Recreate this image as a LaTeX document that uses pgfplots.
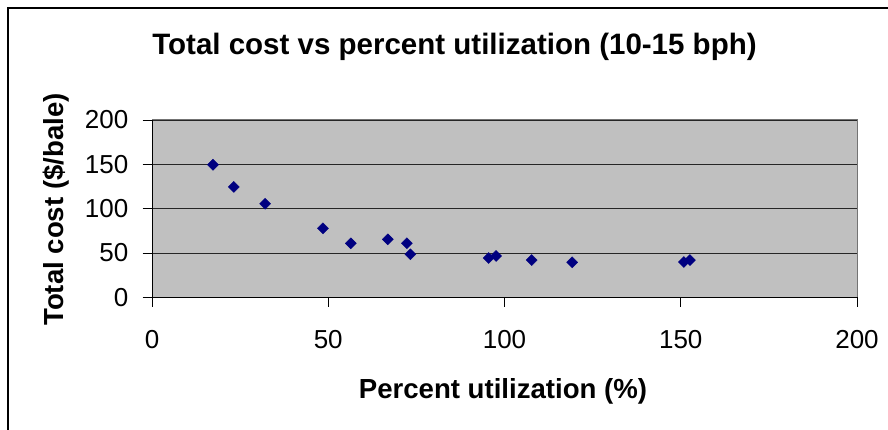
\documentclass[border=0pt]{standalone}
\usepackage{fontspec}
\setmainfont{Liberation Sans}
\usepackage{pgfplots}
\pgfplotsset{compat=1.18}
\definecolor{plotbg}{HTML}{C0C0C0}
\definecolor{navymark}{HTML}{000080}
\begin{document}
\begin{tikzpicture}[x=1pt,y=1pt]
\path[use as bounding box] (0,0) rectangle (888,430);
\draw[line width=1.2pt,black] (8,0) -- (8,422) -- (888,422);
\begin{axis}[
  at={(152pt,132.7pt)}, anchor=origin,
  x=3.525pt, y=0.8865pt,
  xmin=0, xmax=200, ymin=0, ymax=200,
  xtick={0,50,100,150,200}, ytick={0,50,100,150,200},
  axis x line=bottom, axis y line=left,
  axis line style={-, black, line width=1pt},
  tick align=outside, major tick length=9.5pt,
  tick style={black, line width=0.9pt},
  axis background/.style={fill=plotbg},
  ymajorgrids, grid style={black!85, line width=0.9pt},
  /pgf/number format/assume math mode=true,
  tick label style={font=\fontsize{26}{30}\selectfont, inner sep=0pt},
  xticklabel style={anchor=north, yshift=-23.5pt},
  yticklabel style={anchor=east, xshift=-14pt},
  clip=false,
]
\draw[gray!90!black, line width=1pt] (axis cs:0,200) -- (axis cs:200,200) -- (axis cs:200,0);
\addplot[only marks, mark=square*, mark size=3.9pt,
  mark options={rotate=45, fill=navymark, draw=navymark}]
  coordinates {
  (17.3,149.5) (23.2,124.5) (32.1,105.5) (48.5,77.8) (56.4,60.9)
  (66.9,65.4) (72.3,61.0) (73.3,48.5) (95.5,44.3) (97.6,46.6)
  (107.7,42.0) (119.2,39.5) (150.9,39.8) (152.6,42.0)
  };
\end{axis}
\node[anchor=base, font=\bfseries\fontsize{29.5}{34}\selectfont] at (454.5,375) {Total cost vs percent utilization (10-15 bph)};
\node[anchor=base, font=\bfseries\fontsize{27.6}{32}\selectfont] at (503,31) {Percent utilization (\%)};
\node[anchor=base, rotate=90, font=\bfseries\fontsize{27.6}{32}\selectfont] at (63,220.5) {Total cost (\$/bale)};
\end{tikzpicture}
\end{document}
